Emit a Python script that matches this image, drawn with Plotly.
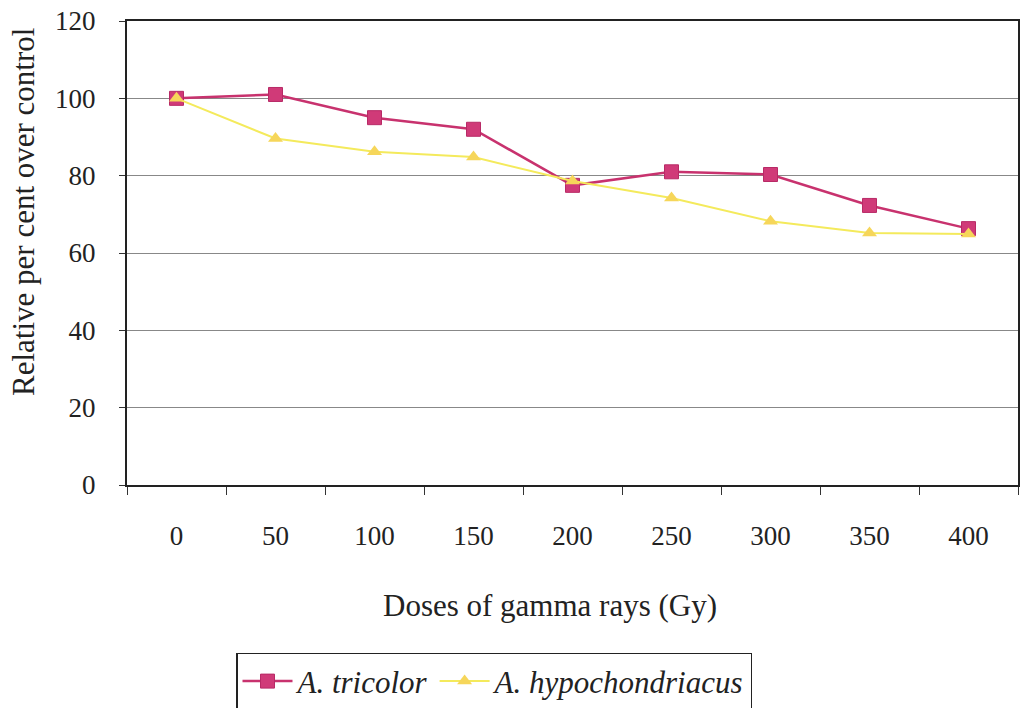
import plotly.graph_objects as go

doses = ["0", "50", "100", "150", "200", "250", "300", "350", "400"]
tricolor = [100, 101, 95, 92, 77.5, 81, 80.3, 72.3, 66.3]
hypochondriacus = [100, 89.6, 86.2, 84.8, 78.6, 74.2, 68.2, 65.2, 64.9]
y_ticks = [0, 20, 40, 60, 80, 100, 120]

FONT = "'Liberation Serif', 'Times New Roman', serif"

fig = go.Figure()
fig.add_trace(go.Scatter(
    x=doses, y=tricolor, mode="lines+markers", name="<i>A. tricolor</i>",
    line=dict(color="#C8326E", width=2.5),
    marker=dict(symbol="square", size=14, color="#D03A78", line=dict(color="#B82A66", width=1)),
))
fig.add_trace(go.Scatter(
    x=doses, y=hypochondriacus, mode="lines+markers", name="<i>A. hypochondriacus</i>",
    line=dict(color="#F4EA5C", width=2),
    marker=dict(symbol="triangle-up", size=13, color="#F6D65A"),
))

fig.update_layout(
    width=1023, height=708,
    margin=dict(l=127, r=5, t=21, b=223, autoexpand=False),
    paper_bgcolor="white", plot_bgcolor="white",
    font=dict(family=FONT, size=28, color="#222"),
    showlegend=True,
    legend=dict(
        orientation="h", x=(494 - 127) / 891, xanchor="center",
        y=-0.362, yanchor="top",
        bordercolor="#222", borderwidth=1.5, bgcolor="white",
        font=dict(family=FONT, size=31, color="#222"),
        itemwidth=50, tracegroupgap=0,
    ),
    xaxis=dict(
        type="category", range=[-0.5, 8.5], showgrid=False,
        showline=True, linecolor="#222", linewidth=2, mirror=True,
        ticks="outside", tickson="boundaries", ticklen=8, tickcolor="#333",
        ticklabelstandoff=26, tickangle=0, tickfont=dict(family=FONT, size=27, color="#222"),
    ),
    yaxis=dict(
        range=[0, 120], tickvals=y_ticks, showgrid=True, gridcolor="#888", gridwidth=1,
        showline=True, linecolor="#222", linewidth=2, mirror=True,
        ticks="outside", ticklen=6, tickcolor="#333",
        ticklabelstandoff=18, tickfont=dict(family=FONT, size=27, color="#222"),
        zeroline=False,
    ),
    annotations=[
        dict(text="Doses of gamma rays (Gy)", xref="paper", yref="paper",
             x=(550 - 127) / 891, y=(485 - 605) / 464, xanchor="center", yanchor="middle",
             showarrow=False, font=dict(family=FONT, size=31, color="#222")),
        dict(text="Relative per cent over control", xref="paper", yref="paper",
             x=(23 - 127) / 891, y=(485 - 212) / 464, xanchor="center", yanchor="middle",
             textangle=-90, showarrow=False, font=dict(family=FONT, size=31, color="#222")),
    ],
)

fig.write_html("out.html")
